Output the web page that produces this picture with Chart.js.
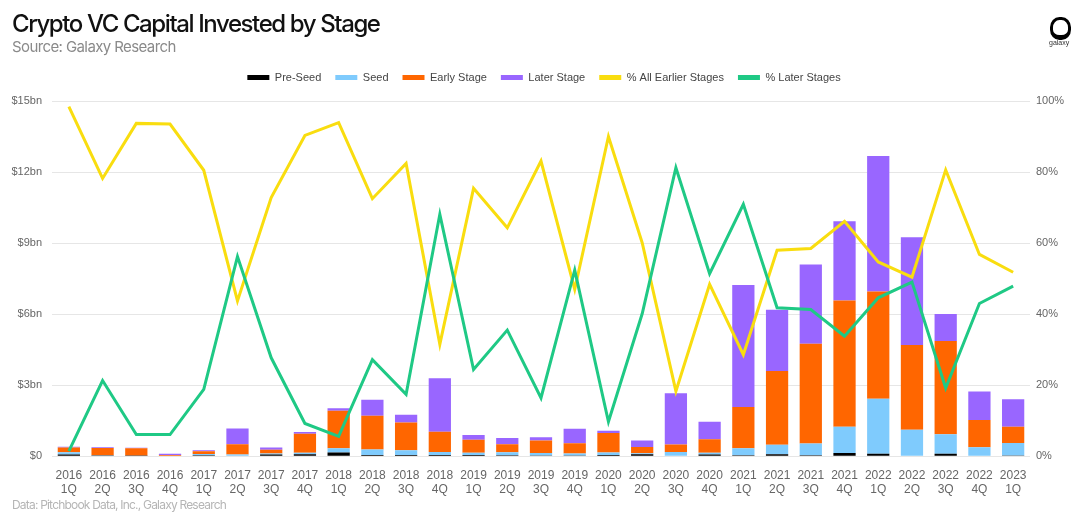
<!DOCTYPE html>
<html>
<head>
<meta charset="utf-8">
<script src="https://cdn.jsdelivr.net/npm/chart.js@4/dist/chart.umd.min.js"></script>
<style>
  html, body { margin: 0; padding: 0; background: #fff; }
  #wrap { position: relative; width: 1080px; height: 526px; overflow: hidden; }
  #chart { position: absolute; left: 0; top: 0; }
  .title { position: absolute; left: 12px; top: 9px; font-family: Inter, sans-serif; font-weight: 500;
    font-size: 24px; letter-spacing: -1.4px; color: #111; }
  .sub { position: absolute; left: 12px; top: 37px; font-family: Inter, sans-serif; font-size: 15px;
    letter-spacing: -0.6px; color: #8a8a8a; }
  .foot { position: absolute; left: 12px; top: 497px; font-family: Inter, sans-serif; font-size: 12px;
    letter-spacing: -0.8px; color: #b5b5b5; }
  .logo { position: absolute; left: 1050px; top: 17px; width: 15px; height: 15px; border: 3px solid #000;
    border-bottom-width: 5px; border-radius: 45%; }
  .logoText { position: absolute; left: 1049px; top: 39px; font-family: Arial, sans-serif; font-size: 7px; color: #333; }
</style>
</head>
<body>
<div id="wrap">
  <canvas id="chart" width="1080" height="526"></canvas>
  <div class="title">Crypto VC Capital Invested by Stage</div>
  <div class="sub">Source: Galaxy Research</div>
  <div class="foot">Data: Pitchbook Data, Inc., Galaxy Research</div>
  <div class="logo"></div>
  <div class="logoText">galaxy</div>
</div>
<script>
'use strict';

// data (bn USD and %)
var years = ['2016', '2016', '2016', '2016', '2017', '2017', '2017', '2017', '2018', '2018', '2018', '2018',
  '2019', '2019', '2019', '2019', '2020', '2020', '2020', '2020', '2021', '2021', '2021', '2021',
  '2022', '2022', '2022', '2022', '2023'];
var quarters = ['1Q', '2Q', '3Q', '4Q', '1Q', '2Q', '3Q', '4Q', '1Q', '2Q', '3Q', '4Q',
  '1Q', '2Q', '3Q', '4Q', '1Q', '2Q', '3Q', '4Q', '1Q', '2Q', '3Q', '4Q',
  '1Q', '2Q', '3Q', '4Q', '1Q'];
var preSeed = [0.07, 0.01, 0.01, 0.0, 0.04, 0.0, 0.07, 0.08, 0.16, 0.05, 0.05, 0.05,
  0.05, 0.04, 0.03, 0.03, 0.05, 0.08, 0.02, 0.07, 0.04, 0.08, 0.04, 0.14,
  0.1, 0.02, 0.1, 0.0, 0.03];
var seed = [0.1, 0.02, 0.01, 0.0, 0.05, 0.07, 0.04, 0.07, 0.18, 0.23, 0.2, 0.13,
  0.1, 0.13, 0.11, 0.08, 0.11, 0.04, 0.16, 0.08, 0.3, 0.4, 0.5, 1.1,
  2.33, 1.1, 0.83, 0.38, 0.53];
var earlyStage = [0.2, 0.32, 0.32, 0.05, 0.12, 0.43, 0.16, 0.8, 1.58, 1.43, 1.17, 0.85,
  0.54, 0.33, 0.52, 0.44, 0.82, 0.27, 0.31, 0.57, 1.74, 3.12, 4.21, 5.33,
  4.52, 3.58, 3.94, 1.15, 0.68];
var laterStage = [0.03, 0.03, 0.02, 0.05, 0.04, 0.67, 0.1, 0.07, 0.1, 0.67, 0.33, 2.26,
  0.2, 0.27, 0.14, 0.61, 0.1, 0.27, 2.17, 0.74, 5.15, 2.58, 3.35, 3.35,
  5.73, 4.55, 1.13, 1.2, 1.17];
var pctEarlier = [98.4, 78.2, 93.7, 93.5, 80.5, 43.7, 72.8, 90.3, 93.9, 72.5, 82.4, 31.5,
  75.4, 64.3, 83.1, 47.0, 90.0, 60.1, 18.3, 48.4, 28.6, 58.0, 58.5, 66.1,
  54.7, 50.4, 80.6, 56.8, 51.8];
var pctLater = [1.4, 21.3, 6.1, 6.1, 18.8, 56.2, 27.7, 9.2, 5.6, 27.2, 17.4, 68.1,
  24.4, 35.5, 16.4, 52.4, 9.7, 40.1, 81.2, 51.4, 70.9, 41.8, 41.3, 33.8,
  44.6, 49.0, 19.2, 43.0, 47.9];
var leftTicks = [0, 3, 6, 9, 12, 15];
var rightTicks = [0, 20, 40, 60, 80, 100];

var labels = years.map(function(y, i) { return [y, quarters[i]]; });

function barSet(name, values, color){
  return {
    type: 'bar', label: name, data: values, backgroundColor: color, borderWidth: 0,
    yAxisID: 'y', stack: 'stage', order: 2, barPercentage: 0.66, categoryPercentage: 1
  };
}
function lineSet(name, values, color, order){
  return {
    type: 'line', label: name, data: values, borderColor: color, backgroundColor: color,
    borderWidth: 3, pointRadius: 0, tension: 0, yAxisID: 'y1', order: order
  };
}

var defaultLabels = Chart.defaults.plugins.legend.labels.generateLabels;

// extra room under the legend
var legendSpace = {
  id: 'legendSpace',
  afterInit: function(chart){
    var fit = chart.legend.fit;
    chart.legend.fit = function(){
      fit.call(this);
      this.height += 8;
    };
  }
};

new Chart(document.getElementById('chart').getContext('2d'), {
  data: {
    labels: labels,
    datasets: [
      barSet('Pre-Seed', preSeed, '#000000'),
      barSet('Seed', seed, '#7fcbfd'),
      barSet('Early Stage', earlyStage, '#ff6600'),
      barSet('Later Stage', laterStage, '#9966ff'),
      lineSet('% All Earlier Stages', pctEarlier, '#f9dd0f', 1),
      lineSet('% Later Stages', pctLater, '#1fc985', 0)
    ]
  },
  plugins: [legendSpace],
  options: {
    responsive: false,
    animation: false,
    layout: { padding: { top: 58, left: 8, right: 0, bottom: 25 } },
    font: { family: 'Arial, "Liberation Sans", sans-serif' },
    plugins: {
      tooltip: { enabled: false },
      legend: {
        position: 'top',
        labels: {
          boxWidth: 22, boxHeight: 5, padding: 14, color: '#444',
          font: { size: 11, family: 'Arial, "Liberation Sans", sans-serif' },
          sort: function(a, b) { return a.datasetIndex - b.datasetIndex; },
          generateLabels: function(chart) {
            return defaultLabels(chart).map(function(item) {
              item.lineWidth = 0;
              item.strokeStyle = 'rgba(0,0,0,0)';
              return item;
            });
          }
        }
      }
    },
    scales: {
      x: {
        stacked: true,
        offset: true,
        grid: { display: false },
        border: { display: false },
        ticks: { color: '#666', font: { size: 12 }, maxRotation: 0, autoSkip: false, padding: 4 }
      },
      y: {
        stacked: true,
        position: 'left',
        min: 0, max: 15,
        afterFit: function(scale) { scale.width = 44; },
        afterBuildTicks: function(scale) { scale.ticks = leftTicks.map(function(v) { return {value: v}; }); },
        grid: { color: '#e6e6e6', drawTicks: false },
        border: { display: false },
        ticks: {
          color: '#666', font: { size: 11 }, padding: 10,
          callback: function(v) { return '$' + v + (v === 0 ? '' : 'bn'); }
        }
      },
      y1: {
        position: 'right',
        min: 0, max: 100,
        afterFit: function(scale) { scale.width = 50; },
        afterBuildTicks: function(scale) { scale.ticks = rightTicks.map(function(v) { return {value: v}; }); },
        grid: { display: false, drawTicks: false },
        border: { display: false },
        ticks: { color: '#666', font: { size: 11 }, padding: 6, callback: function(v) { return v + '%'; } }
      }
    }
  }
});
</script>
</body>
</html>
